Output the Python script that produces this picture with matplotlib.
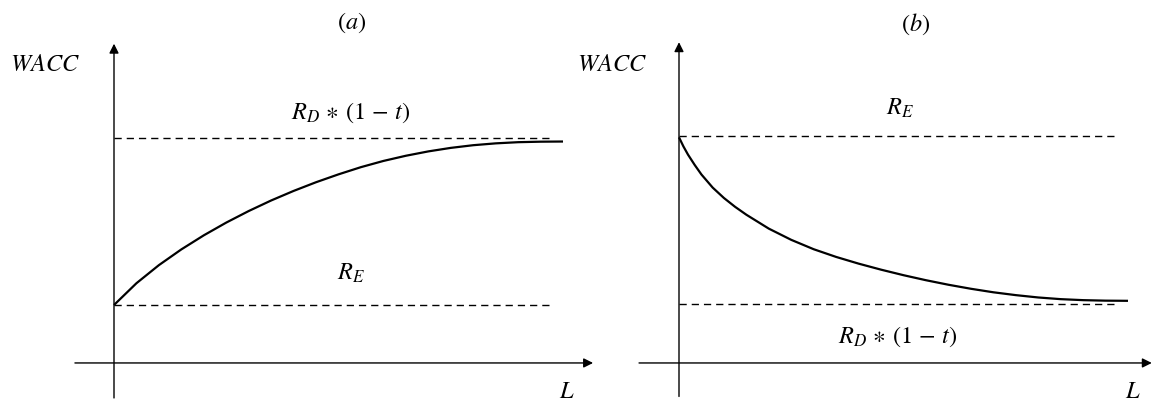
import matplotlib
matplotlib.use("Agg")
import matplotlib.pyplot as plt

plt.rcParams["mathtext.fontset"] = "stix"
plt.rcParams["font.family"] = ["STIXGeneral", "DejaVu Serif"]

# leverage L (0 = y axis, 1 = end of curve), WACC levels: lower line = 1, upper line = 2
lev_a = [0, 0.05, 0.1, 0.15, 0.2, 0.25, 0.3, 0.35, 0.4, 0.45, 0.5,
         0.55, 0.6, 0.65, 0.7, 0.75, 0.8, 0.85, 0.9, 0.95, 1.0]
wacc_a = [1.0, 1.130, 1.238, 1.332, 1.416, 1.492, 1.561, 1.624, 1.681, 1.733, 1.780,
          1.823, 1.860, 1.891, 1.917, 1.938, 1.954, 1.965, 1.972, 1.975, 1.976]

lev_b = [0, 0.01, 0.02, 0.035, 0.05, 0.075, 0.1, 0.125, 0.15, 0.2, 0.25, 0.3, 0.35,
         0.4, 0.45, 0.5, 0.55, 0.6, 0.65, 0.7, 0.75, 0.8, 0.85, 0.9, 0.95, 1.0]
wacc_b = [1.992, 1.937, 1.889, 1.827, 1.770, 1.692, 1.630, 1.577, 1.530, 1.447,
          1.380, 1.324, 1.278, 1.238, 1.202, 1.169, 1.139, 1.112, 1.088, 1.067,
          1.050, 1.036, 1.026, 1.020, 1.017, 1.016]

upper_level = 2.0
lower_level = 1.0

titles = [r"$(a)$", r"$(b)$"]
upper_labels = [r"$R_D\,\ast\,(1\,-\,t)$", r"$R_E$"]
lower_labels = [r"$R_E$", r"$R_D\,\ast\,(1\,-\,t)$"]

W, H = 1153, 405
PX_X = 449.0    # pixels per unit of L
PX_Y = 167.5    # pixels per unit of WACC

fig = plt.figure(figsize=(W / 100, H / 100), dpi=100)


def make_panel(left_px, right_px, x0_px, ylow_px):
    ax = fig.add_axes([left_px / W, 0, (right_px - left_px) / W, 1])
    ax.set_xlim((left_px - x0_px) / PX_X, (right_px - x0_px) / PX_X)
    ax.set_ylim(1 - (H - ylow_px) / PX_Y, 1 + ylow_px / PX_Y)
    ax.axis("off")
    return ax


def draw_axes(ax, x_start, x_end, y_axis_y):
    arrow = dict(arrowstyle="-|>,head_length=0.4,head_width=0.2", lw=1.0,
                 color="black", mutation_scale=14, shrinkA=0, shrinkB=0)
    ax.annotate("", xy=(0, 2.56), xytext=(0, 0.445), arrowprops=arrow,
                annotation_clip=False)
    ax.annotate("", xy=(x_end, y_axis_y), xytext=(x_start, y_axis_y),
                arrowprops=arrow, annotation_clip=False)


dash = (0, (5.2, 3.6))
fs = 17.5

# panel (a)
ax = make_panel(0, 620, 114, 305)
draw_axes(ax, -0.087, 1.067, 0.654)
ax.plot([0, 0.977], [upper_level, upper_level], color="black", lw=1.0, linestyle=dash)
ax.plot([0, 0.977], [lower_level, lower_level], color="black", lw=1.0, linestyle=dash)
ax.plot(lev_a, wacc_a, color="black", lw=1.6, solid_capstyle="butt", solid_joinstyle="round")
ax.text(0.530, 2.684, titles[0], fontsize=fs, ha="center", va="center")
ax.text(-0.154, 2.433, r"$WACC$", fontsize=fs, ha="center", va="center")
ax.text(0.528, 2.146, upper_labels[0], fontsize=fs, ha="center", va="center")
ax.text(0.528, 1.191, lower_labels[0], fontsize=fs, ha="center", va="center")
ax.text(1.009, 0.478, r"$L$", fontsize=fs, ha="center", va="center")

# panel (b)
ax = make_panel(580, 1153, 679, 303.5)
draw_axes(ax, -0.089, 1.053, 0.645)
ax.plot([0, 0.978], [upper_level, upper_level], color="black", lw=1.0, linestyle=dash)
ax.plot([0, 0.978], [lower_level, lower_level], color="black", lw=1.0, linestyle=dash)
ax.plot(lev_b, wacc_b, color="black", lw=1.6, solid_capstyle="butt", solid_joinstyle="round")
ax.text(0.528, 2.669, titles[1], fontsize=fs, ha="center", va="center")
ax.text(-0.149, 2.424, r"$WACC$", fontsize=fs, ha="center", va="center")
ax.text(0.492, 2.167, upper_labels[1], fontsize=fs, ha="center", va="center")
ax.text(0.488, 0.800, lower_labels[1], fontsize=fs, ha="center", va="center")
ax.text(1.011, 0.469, r"$L$", fontsize=fs, ha="center", va="center")

fig.savefig("out.png", dpi=100)
